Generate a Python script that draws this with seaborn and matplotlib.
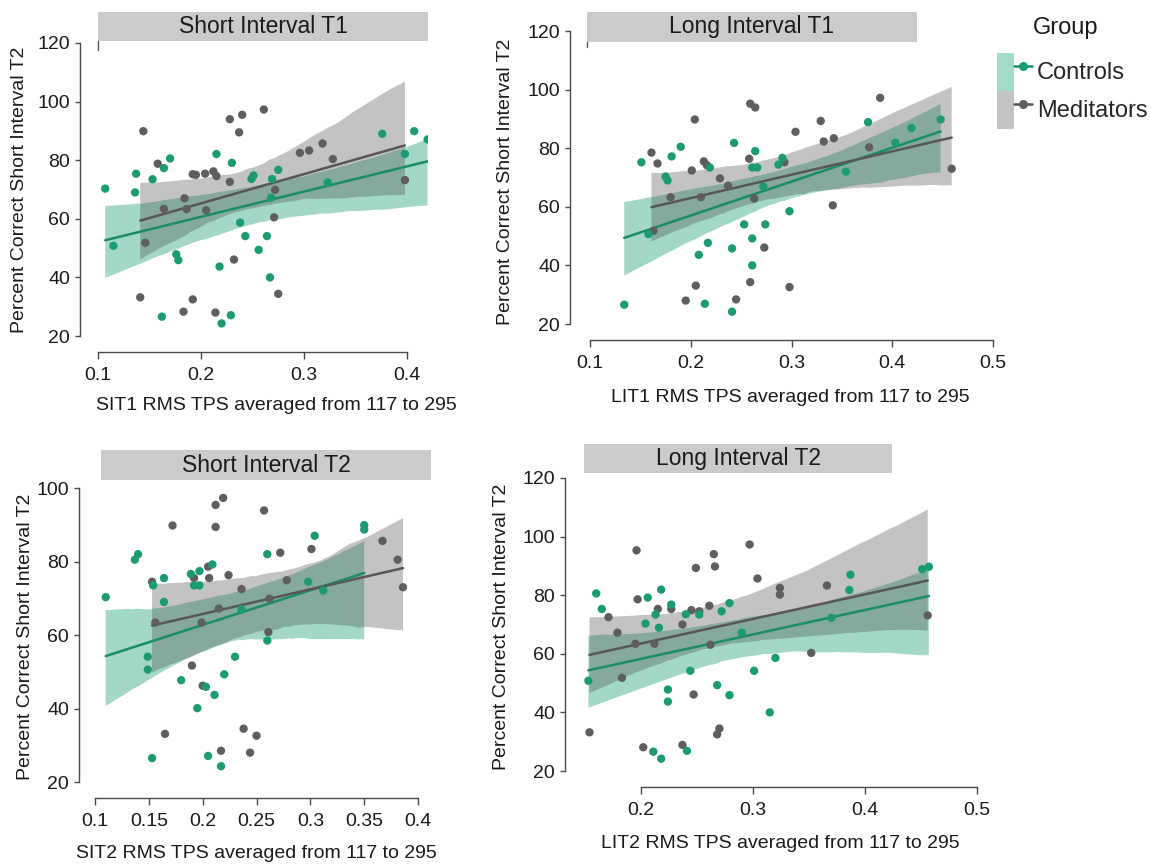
import numpy as np
import pandas as pd
import matplotlib
matplotlib.use('Agg')
import matplotlib.pyplot as plt
from matplotlib.patches import Rectangle, Patch
from matplotlib.lines import Line2D
from matplotlib.legend_handler import HandlerTuple
import seaborn as sns

# ---------------- data ----------------
groups = ['Controls', 'Meditators']
legend_title = 'Group'
titles = ['Short Interval T1', 'Long Interval T1', 'Short Interval T2', 'Long Interval T2']
xlabels = ['SIT1 RMS TPS averaged from 117 to 295', 'LIT1 RMS TPS averaged from 117 to 295',
           'SIT2 RMS TPS averaged from 117 to 295', 'LIT2 RMS TPS averaged from 117 to 295']
ylabel = 'Percent Correct Short Interval T2'

p1_ctrl_x = [0.107, 0.115, 0.136, 0.137, 0.153, 0.164, 0.170, 0.162, 0.176, 0.178, 0.215, 0.218, 0.220, 0.229, 0.230,
             0.238, 0.243, 0.249, 0.251, 0.256, 0.264, 0.267, 0.269, 0.268, 0.275, 0.323, 0.376, 0.398, 0.407, 0.420]
p1_ctrl_y = [70.3, 50.8, 69.0, 75.4, 73.5, 77.3, 80.6, 26.6, 47.9, 45.9, 82.1, 43.7, 24.3, 27.1, 79.1,
             58.7, 54.1, 73.6, 74.8, 49.4, 54.1, 40.0, 73.6, 67.2, 76.7, 72.4, 89.0, 82.1, 89.9, 87.1]
p1_med_x = [0.144, 0.141, 0.146, 0.158, 0.164, 0.184, 0.186, 0.183, 0.192, 0.192, 0.195, 0.204, 0.205, 0.212, 0.215,
            0.214, 0.228, 0.228, 0.237, 0.240, 0.232, 0.261, 0.272, 0.271, 0.275, 0.296, 0.305, 0.318, 0.328, 0.398]
p1_med_y = [89.9, 33.2, 51.8, 78.8, 63.4, 67.0, 63.3, 28.3, 32.5, 75.2, 75.0, 75.4, 62.9, 76.2, 74.6,
            28.0, 94.0, 72.6, 89.5, 95.5, 46.1, 97.3, 69.9, 60.5, 34.4, 82.5, 83.3, 85.7, 80.4, 73.2]

p2_ctrl_x = [0.134, 0.151, 0.158, 0.175, 0.177, 0.181, 0.190, 0.208, 0.214, 0.217, 0.219, 0.241, 0.241, 0.243, 0.253,
             0.261, 0.261, 0.261, 0.264, 0.266, 0.272, 0.274, 0.287, 0.291, 0.298, 0.354, 0.376, 0.403, 0.419, 0.448]
p2_ctrl_y = [26.6, 75.2, 50.7, 70.3, 69.0, 77.2, 80.5, 43.6, 26.9, 47.7, 73.4, 24.2, 45.8, 81.8, 54.0,
             49.2, 40.0, 73.4, 79.0, 73.4, 66.9, 54.0, 74.4, 76.7, 58.5, 72.0, 88.9, 81.9, 86.9, 89.8]
p2_med_x = [0.161, 0.163, 0.167, 0.180, 0.195, 0.201, 0.204, 0.205, 0.210, 0.213, 0.216, 0.229, 0.237, 0.245, 0.258,
            0.259, 0.259, 0.264, 0.263, 0.273, 0.293, 0.298, 0.304, 0.329, 0.332, 0.342, 0.341, 0.377, 0.388, 0.459]
p2_med_y = [78.5, 51.8, 74.8, 63.3, 28.0, 72.4, 89.8, 33.1, 63.3, 75.5, 74.2, 69.7, 67.2, 28.4, 76.4,
            34.3, 95.2, 93.9, 62.8, 46.1, 75.2, 32.6, 85.6, 89.3, 82.3, 83.4, 60.5, 80.3, 97.2, 73.0]

p3_ctrl_x = [0.110, 0.137, 0.140, 0.149, 0.149, 0.153, 0.154, 0.164, 0.164, 0.180, 0.189, 0.192, 0.195, 0.197, 0.197,
             0.203, 0.205, 0.209, 0.211, 0.217, 0.220, 0.230, 0.236, 0.260, 0.260, 0.298, 0.304, 0.312, 0.350, 0.350]
p3_ctrl_y = [70.3, 80.5, 82.0, 54.1, 50.6, 26.5, 73.5, 75.5, 69.0, 47.7, 76.6, 73.5, 40.1, 77.4, 73.5,
             45.9, 27.1, 79.2, 43.7, 24.3, 49.3, 54.1, 67.0, 82.0, 58.5, 74.5, 87.0, 72.1, 89.9, 88.7]
p3_med_x = [0.153, 0.156, 0.165, 0.172, 0.190, 0.192, 0.200, 0.199, 0.205, 0.206, 0.212, 0.212, 0.215, 0.217, 0.219,
            0.224, 0.236, 0.238, 0.244, 0.250, 0.257, 0.261, 0.262, 0.272, 0.278, 0.301, 0.367, 0.381, 0.386]
p3_med_y = [74.5, 63.4, 33.1, 89.8, 51.7, 75.5, 46.2, 63.4, 78.6, 75.5, 95.4, 89.4, 67.2, 28.5, 97.3,
            76.3, 72.5, 34.5, 28.0, 32.6, 93.9, 60.8, 69.9, 82.4, 74.9, 83.4, 85.6, 80.5, 73.0]

p4_ctrl_x = [0.153, 0.160, 0.165, 0.204, 0.206, 0.211, 0.213, 0.216, 0.218, 0.218, 0.224, 0.224, 0.227, 0.240, 0.241,
             0.244, 0.252, 0.268, 0.272, 0.279, 0.279, 0.290, 0.301, 0.315, 0.320, 0.370, 0.386, 0.387, 0.451, 0.457]
p4_ctrl_y = [50.8, 80.6, 75.3, 70.3, 79.2, 26.6, 73.4, 68.9, 81.9, 24.2, 47.8, 43.7, 76.8, 73.5, 26.9,
             54.2, 73.4, 49.3, 74.5, 77.3, 45.9, 67.2, 54.2, 40.0, 58.6, 72.3, 81.8, 87.0, 88.9, 89.7]
p4_med_x = [0.154, 0.171, 0.179, 0.183, 0.195, 0.196, 0.197, 0.202, 0.212, 0.215, 0.227, 0.237, 0.237, 0.245, 0.247,
            0.249, 0.252, 0.261, 0.262, 0.265, 0.266, 0.268, 0.270, 0.297, 0.304, 0.324, 0.324, 0.352, 0.366, 0.456]
p4_med_y = [33.2, 72.5, 67.2, 51.8, 63.4, 95.3, 78.6, 28.1, 63.4, 75.3, 75.3, 28.9, 70.0, 74.9, 46.1,
            89.3, 74.5, 76.4, 63.1, 94.0, 89.8, 32.5, 34.5, 97.3, 85.7, 82.5, 80.2, 60.3, 83.3, 73.1]

p1_xticks = [0.1, 0.2, 0.3, 0.4]
p1_xticklabels = ['0.1', '0.2', '0.3', '0.4']
p2_xticks = [0.1, 0.2, 0.3, 0.4, 0.5]
p2_xticklabels = ['0.1', '0.2', '0.3', '0.4', '0.5']
p3_xticks = [0.1, 0.15, 0.2, 0.25, 0.3, 0.35, 0.4]
p3_xticklabels = ['0.1', '0.15', '0.2', '0.25', '0.3', '0.35', '0.4']
p4_xticks = [0.2, 0.3, 0.4, 0.5]
p4_xticklabels = ['0.2', '0.3', '0.4', '0.5']
yticks_120 = [20, 40, 60, 80, 100, 120]
yticks_100 = [20, 40, 60, 80, 100]

# ---------------- style ----------------
sns.set_style('ticks')
plt.rcParams['font.family'] = ['Liberation Sans', 'DejaVu Sans']

PT = {'Controls': '#1b9b73', 'Meditators': '#5e5e5e'}
LINE = {'Controls': '#1a8c68', 'Meditators': '#575757'}
BAND = {'Controls': '#1b9e77', 'Meditators': '#4b4b4b'}
BAND_A = {'Controls': 0.40, 'Meditators': 0.33}
LEG_BG = {'Controls': '#a5dcc8', 'Meditators': '#c4c4c4'}
SPINE = '#4a4a4a'
TXT = '#1a1a1a'

W, H = 1151, 866
fig = plt.figure(figsize=(W / 100, H / 100), dpi=100)


def px_axes(l, t, r, b):
    return fig.add_axes([l / W, 1 - b / H, (r - l) / W, (b - t) / H])


panels = [
    dict(data=(p1_ctrl_x, p1_ctrl_y, p1_med_x, p1_med_y), box=(98, 41, 428, 352),
         xlim=(0.1, 0.4204), ylim=(14.54, 120.68), off=18, xb=(0.1, 0.4), yb=(20, 120),
         xt=p1_xticks, xtl=p1_xticklabels, yt=yticks_120,
         strip=(98, 12, 428, 41), ylab=(20, 190), xlab=(276, 405), mark=(98, 41, 50)),
    dict(data=(p2_ctrl_x, p2_ctrl_y, p2_med_x, p2_med_y), box=(590, 31, 993, 340),
         xlim=(0.1, 0.5), ylim=(14.54, 120.0), off=20, xb=(0.1, 0.5), yb=(20, 120),
         xt=p2_xticks, xtl=p2_xticklabels, yt=yticks_120,
         strip=(587, 12, 917, 42), ylab=(505, 182), xlab=(790, 398), mark=(587, 42, 47)),
    dict(data=(p3_ctrl_x, p3_ctrl_y, p3_med_x, p3_med_y), box=(95, 480, 431, 798),
         xlim=(0.1, 0.412), ylim=(15.65, 102.18), off=16, xb=(0.1, 0.4), yb=(20, 100),
         xt=p3_xticks, xtl=p3_xticklabels, yt=yticks_100,
         strip=(101, 450, 431, 480), ylab=(26, 637), xlab=(256, 853), mark=None),
    dict(data=(p4_ctrl_x, p4_ctrl_y, p4_med_x, p4_med_y), box=(584, 473, 977, 787),
         xlim=(0.1491, 0.5), ylim=(14.54, 121.7), off=19, xb=(0.2, 0.5), yb=(20, 120),
         xt=p4_xticks, xtl=p4_xticklabels, yt=yticks_120,
         strip=(584, 444, 892, 473), ylab=(501, 627), xlab=(780, 843), mark=None),
]

for i, p in enumerate(panels):
    cx, cy, mx, my = p['data']
    l, t, r, b = p['box']
    ax = px_axes(l, t, r, b)
    df = pd.DataFrame({'x': list(mx) + list(cx), 'y': list(my) + list(cy),
                       'Group': ['Meditators'] * len(mx) + ['Controls'] * len(cx)})
    for g in groups:
        n0 = len(ax.collections)
        sub = df[df['Group'] == g]
        sns.regplot(data=sub, x='x', y='y', scatter=False, ax=ax, color=LINE[g],
                    line_kws=dict(lw=1.8), seed=3, truncate=True)
        for c in ax.collections[n0:]:
            c.set_facecolor(BAND[g])
            c.set_alpha(BAND_A[g])
            c.set_edgecolor('none')
    sns.scatterplot(data=df, x='x', y='y', hue='Group', palette=PT, s=36, linewidth=0,
                    legend=False, ax=ax, zorder=4)
    ax.set_xlim(*p['xlim'])
    ax.set_ylim(*p['ylim'])
    ax.set_xticks(p['xt'])
    ax.set_xticklabels(p['xtl'])
    ax.set_yticks(p['yt'])
    sns.despine(ax=ax)
    ax.spines['left'].set_position(('outward', p['off'] * 0.72))
    ax.spines['left'].set_bounds(*p['yb'])
    ax.spines['bottom'].set_bounds(*p['xb'])
    for s in ['left', 'bottom']:
        ax.spines[s].set_color(SPINE)
        ax.spines[s].set_linewidth(1.0)
    ax.tick_params(axis='x', length=5, width=1, color=SPINE, labelsize=14, labelcolor=TXT, pad=6)
    ax.tick_params(axis='y', length=3.6, width=1, color=SPINE, labelsize=14, labelcolor=TXT, pad=3.5)
    ax.set_xlabel(xlabels[i], fontsize=14, color=TXT)
    ax.set_ylabel(ylabel, fontsize=14, color=TXT)
    ax.xaxis.label.set_va('center')
    ax.yaxis.label.set_va('center')
    lx, ly = p['ylab']
    ax.yaxis.set_label_coords((lx - l) / (r - l), (b - ly) / (b - t))
    lx, ly = p['xlab']
    ax.xaxis.set_label_coords((lx - l) / (r - l), (b - ly) / (b - t))

    sl, st, sr, sb = p['strip']
    fig.add_artist(Rectangle((sl / W, 1 - sb / H), (sr - sl) / W, (sb - st) / H,
                             transform=fig.transFigure, facecolor='#cbcbcb', edgecolor='none'))
    fig.text((sl + sr) / 2 / W, 1 - (st + sb) / 2 / H, titles[i], ha='center', va='center',
             fontsize=16.5, color=TXT)
    if p['mark'] is not None:
        mxp, my0, my1 = p['mark']
        fig.add_artist(Line2D([mxp / W, mxp / W], [1 - my0 / H, 1 - my1 / H],
                              transform=fig.transFigure, color='#555555', lw=1.0))

# ---------------- legend ----------------
handles = []
for g in groups:
    handles.append((Patch(facecolor=LEG_BG[g], edgecolor='none'),
                    Line2D([], [], color=LINE[g], lw=1.8, marker='o', markersize=6.5,
                           markerfacecolor=PT[g], markeredgewidth=0)))
LFS = 17
fig.legend(handles, groups, loc='upper left',
           bbox_to_anchor=(997 / W, 1 - 53 / H), frameon=False, fontsize=LFS,
           handlelength=1.48, handleheight=2.1, labelspacing=0, handletextpad=0.22,
           borderpad=0, borderaxespad=0, handler_map={tuple: HandlerTuple(ndivide=None, pad=0)})
fig.text(1066 / W, 1 - 28 / H, legend_title, ha='center', va='center', fontsize=LFS, color=TXT)

fig.savefig('out.png', dpi=100)
